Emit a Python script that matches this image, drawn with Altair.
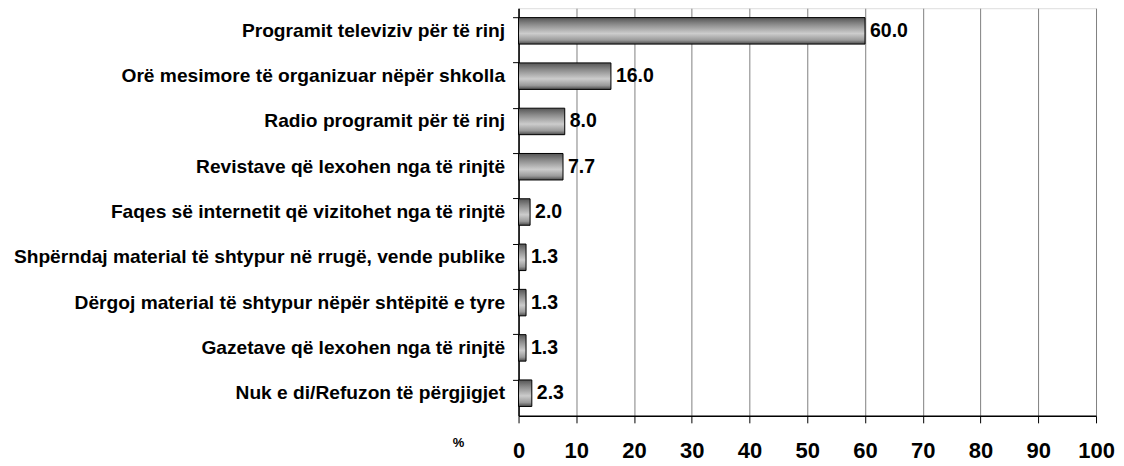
import altair as alt
import pandas as pd

categories = [
    "Programit televiziv për të rinj",
    "Orë mesimore të organizuar nëpër shkolla",
    "Radio programit për të rinj",
    "Revistave që lexohen nga të rinjtë",
    "Faqes së internetit që vizitohet nga të rinjtë",
    "Shpërndaj material të shtypur në rrugë, vende publike",
    "Dërgoj material të shtypur nëpër shtëpitë e tyre",
    "Gazetave që lexohen nga të rinjtë",
    "Nuk e di/Refuzon të përgjigjet",
]
values = [60.0, 16.0, 8.0, 7.7, 2.0, 1.3, 1.3, 1.3, 2.3]
x_ticks = [0, 10, 20, 30, 40, 50, 60, 70, 80, 90, 100]

df = pd.DataFrame({"cat": categories, "val": values})
df["lab"] = df["val"].map(lambda v: f"{v:.1f}")

FONT = "Liberation Sans"
W, H = 578, 408

gradient = alt.LinearGradient(
    gradient="linear",
    x1=0, y1=0, x2=0, y2=1,
    stops=[
        alt.GradientStop(color="#555555", offset=0),
        alt.GradientStop(color="#8a8a8a", offset=0.25),
        alt.GradientStop(color="#cccccc", offset=0.6),
        alt.GradientStop(color="#9a9a9a", offset=0.85),
        alt.GradientStop(color="#4a4a4a", offset=1),
    ],
)

yscale = alt.Scale(domain=categories, paddingInner=0.415, paddingOuter=0.2075)
xscale = alt.Scale(domain=[0, 100], nice=False, zero=True)

base = alt.Chart(df)

bars = base.mark_bar(color=gradient, stroke="black", strokeWidth=1).encode(
    x=alt.X(
        "val:Q",
        scale=xscale,
        axis=alt.Axis(
            values=x_ticks,
            title=None,
            grid=True,
            gridColor="#808080",
            gridWidth=1,
            domainColor="black",
            domainWidth=1.5,
            tickColor="black",
            tickSize=7,
            labelFont=FONT,
            labelFontSize=22,
            labelFontWeight="bold",
            labelColor="black",
            labelPadding=18,
            labelFlush=False,
            labelOverlap=False,
        ),
    ),
    y=alt.Y(
        "cat:N",
        scale=yscale,
        sort=categories,
        axis=alt.Axis(
            title=None,
            bandPosition=0,
            domainColor="black",
            domainWidth=1.5,
            tickColor="black",
            tickSize=6,
            labelFont=FONT,
            labelFontSize=19.2,
            labelFontWeight="bold",
            labelColor="black",
            labelPadding=8,
            labelLimit=600,
        ),
    ),
)

labels = base.mark_text(
    align="left", baseline="middle", dx=5, font=FONT, fontSize=19.5, fontWeight="bold", color="black"
).encode(
    x=alt.X("val:Q", scale=xscale),
    y=alt.Y("cat:N", scale=yscale, sort=categories),
    text="lab:N",
)

pct = alt.Chart(pd.DataFrame({"t": ["%"]})).mark_text(
    font=FONT, fontSize=13, fontWeight="bold", color="black", align="center", baseline="middle"
).encode(x=alt.value(-60), y=alt.value(H + 27), text="t:N")

chart = (
    alt.layer(bars, labels, pct)
    .properties(
        width=W,
        height=H,
        autosize=alt.AutoSizeParams(type="none"),
        padding={"left": 511, "top": 0, "right": 20, "bottom": 50},
    )
    .configure_view(stroke="#808080", strokeWidth=1)
    .configure(background="white")
)

chart.save("out.html", embed_options={"renderer": "svg", "actions": False})
